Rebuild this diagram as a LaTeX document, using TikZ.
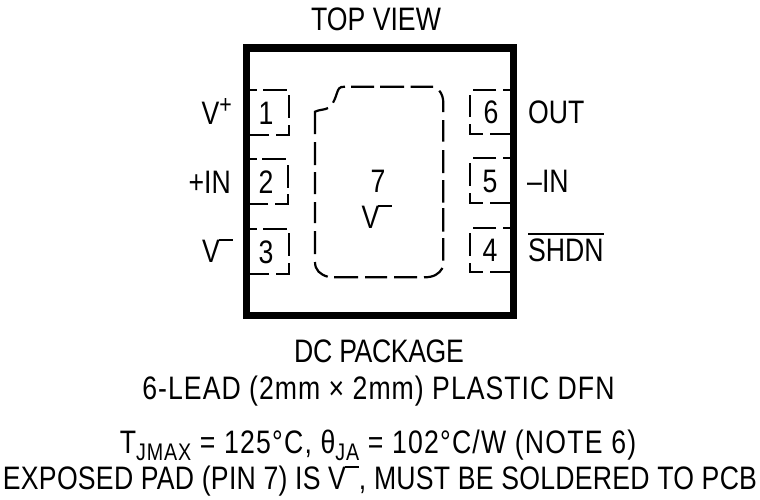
\documentclass[tikz,border=0pt]{standalone}
\usepackage{fontspec}
\setmainfont[FakeStretch=0.82]{Liberation Sans}
\newcommand{\lbl}{\fontsize{32.5}{34}\selectfont}
\newcommand{\supr}[1]{\raisebox{10.5pt}{\fontsize{26}{26}\selectfont #1}}
\newcommand{\subr}[1]{\raisebox{-7pt}{\fontsize{24}{24}\selectfont #1}}
\newcommand{\barV}{V\kern-1pt\raisebox{21.5pt}{\rule{14pt}{1.7pt}}}
\tikzset{
  txt/.style={inner sep=0pt,font=\lbl,text=black},
  ctr/.style={txt,anchor=base},
  lft/.style={txt,anchor=base west},
  rgt/.style={txt,anchor=base east},
  pkg/.style={draw=black,line width=7.2pt,line join=miter},
  dashln/.style={draw=black,line width=2.2pt,line cap=butt},
}
\begin{document}
\begin{tikzpicture}[x=1pt,y=-1pt]
\useasboundingbox (0,0) rectangle (760,499);
% package
\draw[pkg] (246.5,48) rectangle (513.5,315.5);
% pin 1
\draw[dashln] (249,90) -- (257,90) (263,90) -- (287,90) (288.7,95) -- (288.7,118)
  (288.7,125) -- (288.7,134.7) -- (276,134.7) (269,134.7) -- (249,134.7);
% pin 2
\draw[dashln] (249,159) -- (257,159) (262,159) -- (286,159) (287.7,165) -- (287.7,188)
  (287.7,194) -- (287.7,204) -- (275,204) (268,204) -- (249,204);
% pin 3
\draw[dashln] (249,228.7) -- (257,228.7) (263,228.7) -- (287,228.7) (289,233) -- (289,256)
  (289,263) -- (289,273.7) -- (276,273.7) (269,273.7) -- (249,273.7);
% pin 6
\draw[dashln] (511,89.7) -- (502.7,89.7) (496,89.7) -- (472.7,89.7) (470.3,95) -- (470.3,117)
  (470.3,124) -- (470.3,134.3) -- (483,134.3) (490,134.3) -- (511,134.3);
% pin 5
\draw[dashln] (511,158.3) -- (502.7,158.3) (496,158.3) -- (472.7,158.3) (470.3,163) -- (470.3,186)
  (470.3,193) -- (470.3,203.3) -- (483,203.3) (490,203.3) -- (511,203.3);
% pin 4
\draw[dashln] (511,227.7) -- (502.7,227.7) (496,227.7) -- (472.7,227.7) (470.3,233) -- (470.3,256)
  (470.3,263) -- (470.3,272.3) -- (483,272.3) (490,272.3) -- (511,272.3);
% exposed pad
\draw[dashln] (315,134) -- (315,111.7) .. controls (319,109.5) and (325,110) .. (328,108)
  (333,102.7) .. controls (336,98) and (337,91) .. (339,88.5) .. controls (340,87) and (342,86.7) .. (345,86.7)
  (351,86.7) -- (374,86.7) (380,86.7) -- (404,86.7) (410.7,86.7) -- (433,86.7)
  (439.3,90.7) .. controls (442,94) and (443.3,98) .. (443.3,103) -- (443.3,112)
  (443.3,120) -- (443.3,141.7) (443.3,150) -- (443.3,173) (443.3,180) -- (443.3,202.7)
  (443.3,208) -- (443.3,231.7) (443.3,238) -- (443.3,260.7)
  (442.5,268) .. controls (439,274) and (434,277.3) .. (424,277.3)
  (417,277.3) -- (394,277.3) (387,277.3) -- (365,277.3) (358,277.3) -- (334,277.3)
  (327.7,276.7) .. controls (320,274.5) and (315,270) .. (315,262)
  (315,254) -- (315,231) (315,223) -- (315,202) (315,194) -- (315,172) (315,165) -- (315,142);
% texts
\node[ctr] (top) at (376,30) {TOP VIEW};
\node[ctr] (p1) at (266,124) {1};
\node[ctr] (p2) at (266,193) {2};
\node[ctr] (p3) at (266,263) {3};
\node[ctr] (p6) at (491,123) {6};
\node[ctr] (p5) at (490,192) {5};
\node[ctr] (p4) at (490,261.5) {4};
\node[ctr] (p7) at (378,192) {7};
\node[ctr] (p7v) at (377,228) {\barV};
\node[rgt] (vp) at (232,124) {V\supr{+}};
\node[rgt] (inp) at (231,193) {+IN};
\node[rgt] (vm) at (233,262) {\barV};
\node[lft] (out) at (528,123) {OUT};
\node[lft] (inm) at (527,192) {–IN};
\node[lft] (shdn) at (528,261) {SHDN};
\draw[draw=black,line width=1.7pt] ([yshift=4pt]shdn.north west) -- ([yshift=4pt]shdn.north east);
\node[ctr] (dc) at (379,362) {\addfontfeature{LetterSpace=-1.2}DC PACKAGE};
\node[ctr] (lead) at (378.5,399) {\addfontfeature{LetterSpace=3.1}6-LEAD (2mm × 2mm) PLASTIC DFN};
\node[ctr] (tj) at (378,453) {\addfontfeature{LetterSpace=3.75}T\subr{JMAX} = 125°C, θ\subr{JA} = 102°C/W (NOTE 6)};
\node[ctr] (exp) at (380,489) {\addfontfeature{LetterSpace=0.75}EXPOSED PAD (PIN 7) IS \barV, MUST BE SOLDERED TO PCB};
\end{tikzpicture}
\end{document}
